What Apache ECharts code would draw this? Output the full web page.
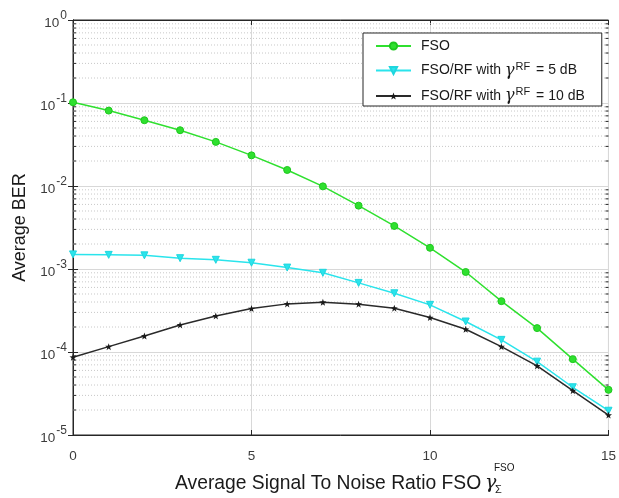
<!DOCTYPE html>
<html>
<head>
<meta charset="utf-8">
<script src="https://cdn.jsdelivr.net/npm/echarts@6/dist/echarts.min.js"></script>
<style>
  html, body { margin: 0; padding: 0; background: #fff; }
  #chart { width: 619px; height: 498px; }
</style>
</head>
<body>
<div id="chart"></div>
<script>
// Average SNR of the FSO link (dB)
const snr = [0, 1, 2, 3, 4, 5, 6, 7, 8, 9, 10, 11, 12, 13, 14, 15];

// Average BER, FSO only
const berFso = [0.102, 0.081, 0.062, 0.047, 0.034, 0.0234, 0.0156, 0.0099, 0.0058, 0.0033,
                0.0018, 0.00092, 0.00041, 0.000194, 0.000082, 0.000035];

// Average BER, hybrid FSO/RF with RF SNR = 5 dB
const berRf5 = [0.00150, 0.00148, 0.00146, 0.00135, 0.00129, 0.00119, 0.00104, 0.00090, 0.00068,
                0.00051, 0.00037, 0.000233, 0.000140, 0.0000765, 0.0000376, 0.0000196];

// Average BER, hybrid FSO/RF with RF SNR = 10 dB
const berRf10 = [0.0000865, 0.000116, 0.000156, 0.000212, 0.000272, 0.000334, 0.00038, 0.000398,
                 0.000377, 0.000337, 0.00026, 0.000188, 0.000116, 0.000068, 0.0000342, 0.0000174];

const seriesNames = ['FSO', 'FSO/RF with γRF = 5 dB', 'FSO/RF with γRF = 10 dB'];
const legendLabels = [
  'FSO',
  'FSO/RF with {g|γ}{sup|RF} = 5 dB',
  'FSO/RF with {g|γ}{sup|RF} = 10 dB'
];

const xMin = 0, xMax = 15, xStep = 5;
const yMin = 1e-5, yMax = 1;

// minor grid levels 2..9 x 10^k inside the y range
const minorLevels = [];
for (let e = -5; e < 0; e++) {
  for (let m = 2; m <= 9; m++) minorLevels.push([xMin, m * Math.pow(10, e)]);
}

const textColor = '#3c3c3c';
const frameColor = '#262626';
const font = '"Liberation Sans", Arial, sans-serif';
const serif = '"DejaVu Serif", "Liberation Serif", serif';

const pair = (ys) => snr.map((x, i) => [x, ys[i]]);

const chart = echarts.init(document.getElementById('chart'), null, { renderer: 'canvas' });

const supLabel = (v) => {
  const e = Math.round(Math.log10(v));
  return '{b|10}{s|' + e + '}';
};

chart.setOption({
  animation: false,
  backgroundColor: '#ffffff',
  grid: {
    left: 73, right: 8, top: 20, bottom: 63,
    show: true, borderColor: frameColor, borderWidth: 1, backgroundColor: 'transparent'
  },
  legend: {
    data: seriesNames,
    orient: 'vertical',
    left: 363, top: 33,
    padding: [6, 17, 2, 12],
    itemWidth: 35, itemHeight: 9, itemGap: 8,
    backgroundColor: '#ffffff',
    borderColor: frameColor, borderWidth: 1, borderRadius: 0,
    formatter: (name) => legendLabels[seriesNames.indexOf(name)],
    textStyle: {
      color: '#1a1a1a', fontFamily: font, fontSize: 14, padding: [0, 0, 0, 5],
      rich: {
        g: { fontFamily: serif, fontStyle: 'italic', fontSize: 16, color: '#1a1a1a', padding: [0, 1, 0, 0] },
        sup: { fontFamily: font, fontSize: 11, verticalAlign: 'top', padding: [0, 2, 8, 0], color: '#1a1a1a' }
      }
    }
  },
  xAxis: [{
    type: 'value', min: xMin, max: xMax, interval: xStep,
    axisLine: { show: true, onZero: false, lineStyle: { color: frameColor, width: 1 } },
    axisTick: { show: true, inside: true, length: 5, lineStyle: { color: frameColor } },
    axisLabel: { color: textColor, fontFamily: font, fontSize: 13.5, margin: 14 },
    splitLine: { show: true, lineStyle: { color: '#d8d8d8', width: 1 } }
  }, {
    type: 'value', min: xMin, max: xMax, interval: xStep, position: 'top',
    axisLine: { show: true, lineStyle: { color: frameColor, width: 1 } },
    axisTick: { show: true, inside: true, length: 5, lineStyle: { color: frameColor } },
    axisLabel: { show: false }, splitLine: { show: false }
  }],
  yAxis: [{
    type: 'log', logBase: 10, min: yMin, max: yMax,
    name: 'Average BER', nameLocation: 'middle', nameGap: 43,
    nameTextStyle: { color: '#1a1a1a', fontFamily: font, fontSize: 18 },
    axisLine: { show: true, onZero: false, lineStyle: { color: frameColor, width: 1 } },
    axisTick: { show: true, inside: true, length: 5, lineStyle: { color: frameColor } },
    axisLabel: {
      color: textColor, margin: 6, formatter: supLabel,
      rich: {
        b: { fontFamily: font, fontSize: 13.5, color: textColor, padding: [6, 0, 0, 0] },
        s: { fontFamily: font, fontSize: 12, color: textColor, verticalAlign: 'top', padding: [0, 0, 6, 1] }
      }
    },
    splitLine: { show: true, lineStyle: { color: '#d8d8d8', width: 1 } }
  }, {
    type: 'log', logBase: 10, min: yMin, max: yMax, position: 'right',
    axisLine: { show: true, lineStyle: { color: frameColor, width: 1 } },
    axisTick: { show: true, inside: true, length: 5, lineStyle: { color: frameColor } },
    axisLabel: { show: false }, splitLine: { show: false }
  }],
  series: [{
    // dotted minor grid with small inner ticks on both side frames
    type: 'custom',
    name: 'minor',
    silent: true,
    z: 1,
    data: minorLevels,
    encode: { x: 0, y: 1 },
    renderItem: (params, api) => {
      const y = api.value(1);
      const a = api.coord([xMin, y]);
      const b = api.coord([xMax, y]);
      return {
        type: 'group',
        children: [
          { type: 'line', shape: { x1: a[0], y1: a[1], x2: b[0], y2: b[1] },
            style: { stroke: '#c8c8c8', lineWidth: 1, lineDash: [1, 2] } },
          { type: 'line', shape: { x1: a[0], y1: a[1], x2: a[0] + 3, y2: a[1] },
            style: { stroke: frameColor, lineWidth: 1 } },
          { type: 'line', shape: { x1: b[0], y1: b[1], x2: b[0] - 3, y2: b[1] },
            style: { stroke: frameColor, lineWidth: 1 } }
        ]
      };
    }
  }, {
    name: seriesNames[0], type: 'line', data: pair(berFso), z: 5,
    symbol: 'circle', symbolSize: 7,
    lineStyle: { color: '#2fe02f', width: 1.5 },
    itemStyle: { color: '#2fe02f', borderColor: '#1fc81f', borderWidth: 1 }
  }, {
    name: seriesNames[1], type: 'line', data: pair(berRf5), z: 6,
    symbol: 'triangle', symbolRotate: 180, symbolSize: 7,
    lineStyle: { color: '#2ae4ec', width: 1.5 },
    itemStyle: { color: '#2ae4ec', borderColor: '#1fd6de', borderWidth: 1 }
  }, {
    name: seriesNames[2], type: 'line', data: pair(berRf10), z: 7,
    symbol: 'path://M0,-10 L2.35,-3.24 L9.51,-3.09 L3.8,1.24 L5.88,8.09 L0,4 L-5.88,8.09 L-3.8,1.24 L-9.51,-3.09 L-2.35,-3.24 Z',
    symbolSize: 7,
    lineStyle: { color: '#2a2a2a', width: 1.5 },
    itemStyle: { color: '#1a1a1a' }
  }],
  graphic: [{
    type: 'text', left: 175, top: 474, z: 10,
    style: { text: 'Average Signal To Noise Ratio FSO', fill: '#1a1a1a', font: '19.3px ' + font }
  }, {
    type: 'text', left: 485, top: 474, z: 10,
    style: { text: 'γ', fill: '#1a1a1a', font: 'italic 19px ' + serif }
  }, {
    type: 'text', left: 494, top: 463, z: 10,
    style: { text: 'FSO', fill: '#1a1a1a', font: '10px ' + font }
  }, {
    type: 'text', left: 495, top: 484, z: 10,
    style: { text: 'Σ', fill: '#1a1a1a', font: '11px ' + font }
  }]
});
</script>
</body>
</html>
